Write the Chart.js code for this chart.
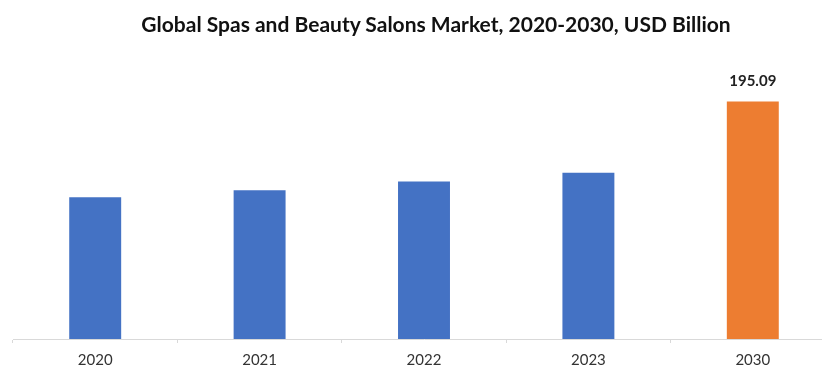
<!DOCTYPE html>
<html>
<head>
<meta charset="utf-8">
<script src="https://cdn.jsdelivr.net/npm/chart.js@4"></script>
<style>
  html, body { margin: 0; padding: 0; background: #fff; overflow: hidden; }
  #wrap { position: relative; width: 836px; height: 367px; overflow: hidden; }
  #title {
    position: absolute; left: 0; top: 12px; width: 872px; text-align: center;
    font: bold 21px/24px Lato, "Open Sans", sans-serif; color: #111;
  }
</style>
</head>
<body>
<div id="wrap">
  <div id="title">Global Spas and Beauty Salons Market, 2020-2030, USD Billion</div>
  <canvas id="myChart" width="836" height="384"></canvas>
</div>
<script>
const years = ["2020", "2021", "2022", "2023", "2030"];
const marketSize = [116.4, 122.2, 129.4, 136.5, 195.09];
const barColors = ["#4472c4", "#4472c4", "#4472c4", "#4472c4", "#ed7d31"];
const shownLabels = ["", "", "", "", "195.09"];

// draws the value above the last bar
const valueLabels = {
  id: "valueLabels",
  afterDatasetsDraw(chart) {
    const ctx = chart.ctx;
    const meta = chart.getDatasetMeta(0);
    ctx.save();
    ctx.font = "bold 15px Lato, 'Open Sans', sans-serif";
    ctx.fillStyle = "#222";
    ctx.textAlign = "center";
    ctx.textBaseline = "alphabetic";
    meta.data.forEach((bar, i) => {
      if (shownLabels[i]) ctx.fillText(shownLabels[i], bar.x, bar.y - 15);
    });
    ctx.restore();
  }
};

let myChart = document.getElementById("myChart").getContext("2d");

let popChart = new Chart(myChart, {
  type: "bar",
  data: {
    labels: years,
    datasets: [
      {
        data: marketSize,
        backgroundColor: barColors,
        borderWidth: 0,
        barPercentage: 0.316,
        categoryPercentage: 1
      }
    ]
  },
  options: {
    responsive: false,
    animation: false,
    layout: { padding: { top: 59, left: 13, right: 1, bottom: 7 } },
    plugins: {
      legend: { display: false },
      title: { display: false },
      tooltip: { enabled: false }
    },
    scales: {
      x: {
        offset: true,
        border: { color: "#d9d9d9" },
        grid: {
          offset: true,
          drawOnChartArea: false,
          tickLength: 4,
          color: "#d9d9d9"
        },
        ticks: {
          color: "#333",
          padding: 8,
          font: { size: 15, family: "Lato, 'Open Sans', sans-serif" }
        }
      },
      y: {
        display: false,
        min: 0,
        max: 230
      }
    }
  },
  plugins: [valueLabels]
});
</script>
</body>
</html>
